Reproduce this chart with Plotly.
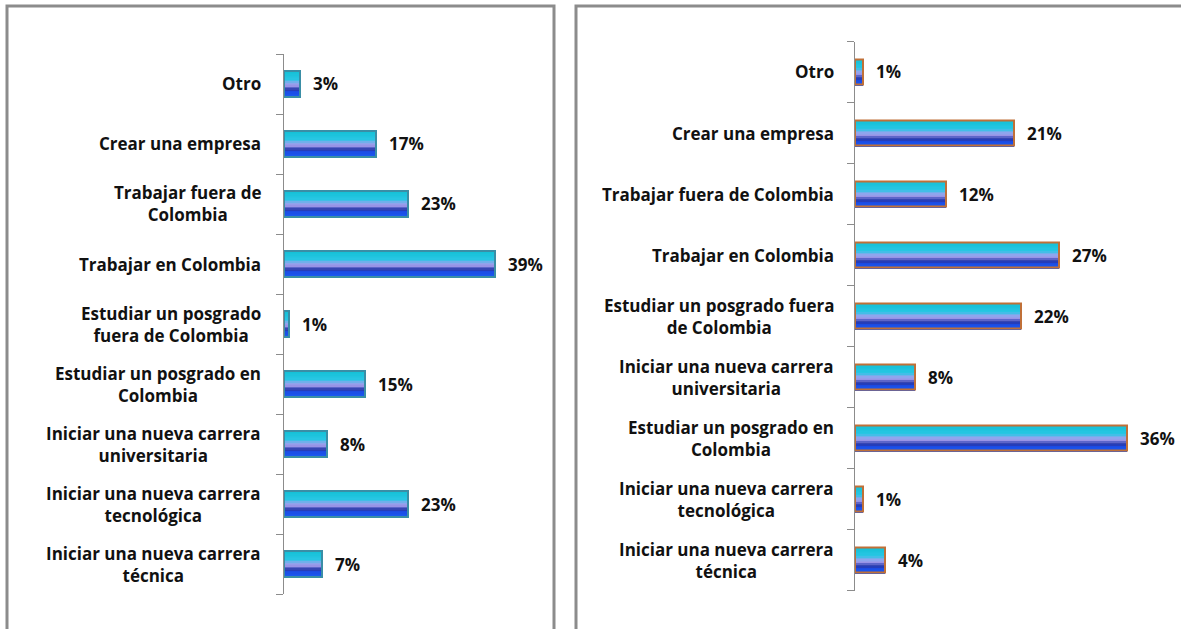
import plotly.graph_objects as go

# ---------------- data ----------------
left_labels = [
    "Otro",
    "Crear una empresa",
    "Trabajar fuera de<br>Colombia",
    "Trabajar en Colombia",
    "Estudiar un posgrado<br>fuera de Colombia",
    "Estudiar un posgrado en<br>Colombia",
    "Iniciar una nueva carrera<br>universitaria",
    "Iniciar una nueva carrera<br>tecnológica",
    "Iniciar una nueva carrera<br>técnica",
]
left_values = [3, 17, 23, 39, 1, 15, 8, 23, 7]

right_labels = [
    "Otro",
    "Crear una empresa",
    "Trabajar fuera de Colombia",
    "Trabajar en Colombia",
    "Estudiar un posgrado fuera<br>de Colombia",
    "Iniciar una nueva carrera<br>universitaria",
    "Estudiar un posgrado en<br>Colombia",
    "Iniciar una nueva carrera<br>tecnológica",
    "Iniciar una nueva carrera<br>técnica",
]
right_values = [1, 21, 12, 27, 22, 8, 36, 1, 4]

# ---------------- style ----------------
W, H = 1181, 629
FONT = "Open Sans"
FSIZE = 17
BAR_W = 0.42
grad_stops = [
    (0.00, (20, 192, 214)),
    (0.33, (40, 198, 228)),
    (0.45, (140, 168, 238)),
    (0.58, (156, 150, 232)),
    (0.66, (70, 84, 190)),
    (0.73, (40, 56, 168)),
    (0.80, (28, 74, 226)),
    (1.00, (24, 90, 242)),
]
N_STRIPES = 18


def grad_color(t):
    for (t0, c0), (t1, c1) in zip(grad_stops[:-1], grad_stops[1:]):
        if t0 <= t <= t1:
            f = (t - t0) / (t1 - t0) if t1 > t0 else 0
            c = [round(a + (b - a) * f) for a, b in zip(c0, c1)]
            return f"rgb({c[0]},{c[1]},{c[2]})"
    c = grad_stops[-1][1]
    return f"rgb({c[0]},{c[1]},{c[2]})"


fig = go.Figure()


def add_panel(labels, values, xref, yref, border_color):
    h = BAR_W / N_STRIPES
    for k in range(N_STRIPES):
        t = (k + 0.5) / N_STRIPES
        fig.add_trace(go.Bar(
            x=values, y=labels, orientation="h",
            width=BAR_W - k * h, offset=-BAR_W / 2,
            marker=dict(color=grad_color(t), line=dict(width=0)),
            xaxis=xref, yaxis=yref, showlegend=False, hoverinfo="skip",
        ))
    fig.add_trace(go.Bar(
        x=values, y=labels, orientation="h",
        width=BAR_W, offset=-BAR_W / 2,
        marker=dict(color="rgba(0,0,0,0)", line=dict(width=2, color=border_color)),
        xaxis=xref, yaxis=yref, showlegend=False, hoverinfo="skip",
    ))


add_panel(left_labels, left_values, "x", "y", "#3a8ea6")
add_panel(right_labels, right_values, "x2", "y2", "#c07038")

annotations = []
# category labels (center aligned like the original)
for labels, yref, xr in [(left_labels, "y", 263 / W), (right_labels, "y2", 836 / W)]:
    for lab in labels:
        annotations.append(dict(
            x=xr, xref="paper", y=lab, yref=yref, text=f"<b>{lab}</b>",
            xanchor="right", yanchor="middle", align="center", showarrow=False,
            font=dict(family=FONT, size=FSIZE, color="#111111"),
        ))
# value labels
for labels, values, xref, yref in [(left_labels, left_values, "x", "y"),
                                   (right_labels, right_values, "x2", "y2")]:
    for lab, v in zip(labels, values):
        annotations.append(dict(
            x=v, xref=xref, y=lab, yref=yref, text=f"<b>{v}%</b>",
            xanchor="left", yanchor="middle", xshift=11, showarrow=False,
            font=dict(family=FONT, size=FSIZE, color="#111111"),
        ))

yaxis_common = dict(
    type="category", categoryorder="array",
    showticklabels=False, showline=True, linecolor="#8c8c8c", linewidth=1,
    ticks="outside", ticklen=7, tickcolor="#8c8c8c", tickwidth=1,
    tickson="boundaries", showgrid=False, zeroline=False, fixedrange=True,
)

fig.update_layout(
    width=W, height=H, margin=dict(l=0, r=0, t=0, b=0),
    paper_bgcolor="white", plot_bgcolor="white",
    barmode="overlay", bargap=0,
    xaxis=dict(domain=[284 / W, (284 + 270) / W], range=[0, 50], visible=False,
               fixedrange=True),
    xaxis2=dict(domain=[855 / W, (855 + 302) / W], range=[0, 40], visible=False,
                fixedrange=True),
    yaxis=dict(domain=[1 - 594 / H, 1 - 54 / H], anchor="x",
               categoryarray=list(reversed(left_labels)), **yaxis_common),
    yaxis2=dict(domain=[1 - 590.5 / H, 1 - 41.5 / H], anchor="x2",
                categoryarray=list(reversed(right_labels)), **yaxis_common),
    annotations=annotations,
    shapes=[
        dict(type="rect", xref="paper", yref="paper",
             x0=7 / W, x1=554 / W, y0=-0.05, y1=1 - 6 / H,
             line=dict(color="#8c8c8c", width=3), layer="below"),
        dict(type="rect", xref="paper", yref="paper",
             x0=576 / W, x1=1.05, y0=-0.05, y1=1 - 6 / H,
             line=dict(color="#8c8c8c", width=3), layer="below"),
    ],
)

fig.write_html(
    "out.html",
    config={"displayModeBar": False},
    post_script="document.body.style.margin='0';document.body.style.overflow='hidden';",
)
